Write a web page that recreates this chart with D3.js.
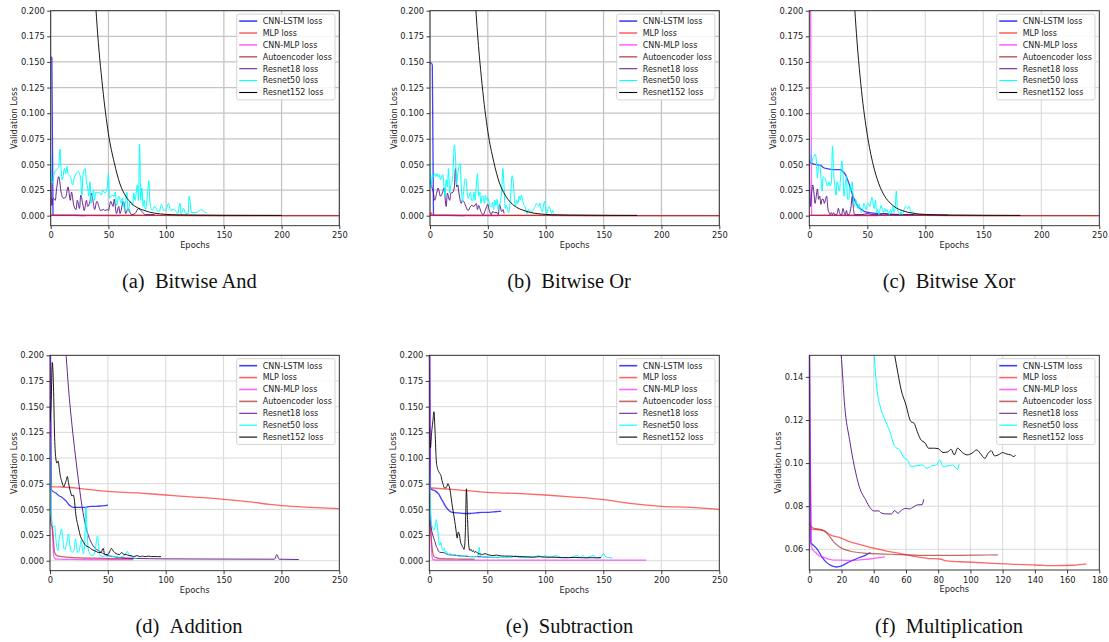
<!DOCTYPE html>
<html><head><meta charset="utf-8">
<script src="https://cdn.jsdelivr.net/npm/d3@7"></script>
<style>body{margin:0;background:#fff;}svg{display:block;}</style>
</head><body>
<svg id="chart" width="1109" height="642"></svg>
<script>
// ---------- labels ----------
const seriesNames = ["CNN-LSTM loss","MLP loss","CNN-MLP loss","Autoencoder loss","Resnet18 loss","Resnet50 loss","Resnet152 loss"];
const captions = ["(a)\u00a0\u00a0Bitwise And","(b)\u00a0\u00a0Bitwise Or","(c)\u00a0\u00a0Bitwise Xor","(d)\u00a0\u00a0Addition","(e)\u00a0\u00a0Subtraction","(f)\u00a0\u00a0Multiplication"];
const xTicksMain = [0,50,100,150,200,250];
const xTicksMul = [0,20,40,60,80,100,120,140,160,180];
const yTicksMain = [0,0.025,0.05,0.075,0.1,0.125,0.15,0.175,0.2];
const yTicksMul = [0.06,0.08,0.10,0.12,0.14];

// ---------- (a) Bitwise And ----------
const aCnnLstm = [[0,0.155],[1,0.154],[2,0.0005],[5,0.0003],[10,0.0002],[20,0.0002],[30,0.0001]];
const aMlp = [[0,0.0003],[50,0.0002],[100,0.0002],[150,0.0001],[200,0.0001],[250,0.0001]];
const aCnnMlp = [[0,0.0004],[20,0.0002],[60,0.0001]];
const aAutoenc = [[0,0.0003],[50,0.0002],[100,0.0002],[150,0.0001],[200,0.0001],[250,0.0001]];
const aResnet18 = [[0,0.045],[1,0.010],[2,0.017],[4,0.015],[5,0.025],[7,0.038],[9,0.023],[11,0.017],[13,0.018],[15,0.028],[17,0.015],[18,0.023],[20,0.010],[22,0.006],[23,0.015],[25,0.007],[26,0.020],[28,0.010],[29,0.005],[31,0.015],[32,0.009],[34,0.014],[35,0.022],[37,0.012],[38,0.006],[40,0.014],[42,0.008],[43,0.005],[46,0.006],[47,0.005],[49,0.006],[50,0.005],[52,0.014],[54,0.009],[55,0.016],[57,0.002],[59,0.009],[60,0.002],[63,0.014],[65,0.002],[67,0.007],[70,0.001],[73,0.002],[76,0.007],[79,0.004],[82,0.001],[86,0.001],[90,0.001]];
const aResnet50 = [[0,0.060],[1,0.033],[2,0.032],[3,0.041],[5,0.045],[7,0.048],[8,0.065],[9,0.045],[10,0.035],[12,0.046],[13,0.041],[14,0.048],[15,0.041],[17,0.038],[19,0.030],[20,0.035],[22,0.041],[24,0.043],[26,0.036],[27,0.020],[28,0.041],[30,0.046],[31,0.033],[32,0.028],[33,0.019],[34,0.033],[35,0.012],[36,0.019],[37,0.025],[38,0.015],[39,0.023],[41,0.022],[42,0.023],[44,0.020],[45,0.025],[47,0.022],[49,0.028],[50,0.041],[51,0.017],[53,0.020],[55,0.019],[56,0.023],[57,0.010],[59,0.019],[61,0.012],[62,0.017],[64,0.006],[65,0.015],[66,0.023],[67,0.004],[69,0.014],[71,0.010],[72,0.022],[73,0.015],[74,0.022],[75,0.030],[76,0.015],[77,0.070],[78,0.015],[79,0.027],[80,0.009],[81,0.015],[82,0.006],[84,0.023],[85,0.034],[86,0.012],[88,0.005],[90,0.009],[92,0.005],[94,0.004],[96,0.011],[98,0.005],[100,0.006],[102,0.012],[104,0.005],[106,0.006],[108,0.005],[110,0.002],[112,0.012],[113,0.002],[115,0.007],[117,0.002],[119,0.002],[120,0.019],[122,0.003],[125,0.003],[128,0.004],[130,0.006],[132,0.005],[134,0.003],[135,0.003]];
const aResnet152 = [[0,2.5],[20,0.9],[30,0.45],[35,0.29],[40,0.188],[45,0.125],[50,0.080],[55,0.052],[60,0.031],[65,0.019],[70,0.012],[75,0.0078],[80,0.0055],[85,0.0036],[90,0.0024],[95,0.0017],[100,0.0012],[110,0.0008],[120,0.0006],[150,0.0004],[200,0.0003]];

// ---------- (b) Bitwise Or ----------
const bCnnLstm = [[0,0.149],[1,0.149],[2,0.147],[3,0.0005],[6,0.0003],[15,0.0002],[30,0.0001]];
const bMlp = [[0,0.0003],[1,0.003],[2,0.0003],[50,0.0002],[100,0.0002],[150,0.0001],[200,0.0001],[250,0.0001]];
const bCnnMlp = [[0,0.0004],[20,0.0002],[60,0.0001]];
const bAutoenc = [[0,0.0003],[50,0.0002],[100,0.0002],[150,0.0001],[200,0.0001],[250,0.0001]];
const bResnet18 = [[0,0.035],[1,0.030],[3,0.022],[4,0.015],[6,0.023],[7,0.027],[9,0.019],[11,0.023],[12,0.027],[14,0.009],[15,0.022],[17,0.015],[18,0.022],[20,0.023],[21,0.028],[22,0.046],[23,0.028],[24,0.030],[25,0.022],[27,0.012],[28,0.015],[30,0.012],[31,0.009],[33,0.005],[35,0.009],[36,0.010],[38,0.009],[40,0.012],[41,0.006],[42,0.010],[44,0.004],[46,0.001],[48,0.006],[49,0.009],[50,0.011],[51,0.006],[53,0.001],[54,0.004],[56,0.003],[58,0.003],[59,0.001],[60,0.011],[62,0.004],[63,0.006],[64,0.002]];
const bResnet50 = [[0,0.052],[1,0.028],[2,0.040],[3,0.038],[4,0.041],[5,0.038],[6,0.041],[7,0.038],[8,0.040],[9,0.035],[11,0.040],[12,0.030],[13,0.019],[14,0.035],[15,0.028],[16,0.046],[17,0.022],[18,0.030],[19,0.033],[20,0.045],[21,0.069],[22,0.058],[23,0.030],[24,0.041],[25,0.048],[26,0.051],[27,0.030],[28,0.014],[29,0.022],[30,0.035],[31,0.036],[32,0.025],[33,0.017],[35,0.023],[36,0.015],[37,0.015],[38,0.023],[39,0.015],[40,0.030],[41,0.041],[42,0.019],[43,0.023],[44,0.012],[45,0.019],[46,0.019],[47,0.012],[48,0.020],[49,0.015],[50,0.017],[51,0.014],[52,0.009],[53,0.009],[54,0.013],[55,0.006],[56,0.015],[57,0.010],[58,0.016],[59,0.006],[60,0.010],[61,0.015],[62,0.025],[63,0.046],[64,0.028],[65,0.007],[66,0.010],[67,0.006],[68,0.003],[69,0.010],[70,0.025],[71,0.039],[72,0.033],[73,0.015],[74,0.009],[75,0.015],[76,0.012],[77,0.019],[78,0.015],[79,0.020],[80,0.015],[81,0.011],[82,0.009],[83,0.005],[84,0.002],[85,0.006],[86,0.004],[87,0.005],[88,0.004],[90,0.007],[91,0.009],[92,0.012],[93,0.011],[94,0.009],[95,0.012],[96,0.007],[97,0.004],[98,0.009],[99,0.014],[100,0.007],[101,0.002],[102,0.007],[103,0.009],[104,0.006],[105,0.002],[106,0.005],[107,0.002]];
const bResnet152 = [[0,2.5],[20,0.9],[30,0.46],[35,0.30],[40,0.195],[45,0.128],[50,0.082],[55,0.053],[60,0.032],[65,0.020],[70,0.0125],[75,0.0080],[80,0.0055],[85,0.0036],[90,0.0024],[95,0.0017],[100,0.0012],[110,0.0008],[120,0.0006],[150,0.0004],[179,0.0003]];

// ---------- (c) Bitwise Xor ----------
const cCnnLstm = [[0,0.053],[2,0.051],[5,0.050],[10,0.049],[12,0.047],[15,0.046],[20,0.045],[25,0.045],[27,0.045],[28,0.044],[30,0.042],[32,0.038],[34,0.032],[36,0.025],[38,0.018],[40,0.013],[42,0.009],[45,0.006],[48,0.004],[52,0.003],[60,0.002],[70,0.0015],[80,0.001],[90,0.0008],[100,0.0006],[120,0.0004]];
const cMlp = [[0,0.0003],[50,0.0002],[100,0.0002],[150,0.0001],[200,0.0001],[250,0.0001]];
const cCnnMlp = [[0,0.6],[1,0.25],[2,0.0003],[20,0.0002],[60,0.0001]];
const cAutoenc = [[0,0.0003],[50,0.0002],[100,0.0002],[150,0.0001],[200,0.0001],[250,0.0001]];
const cResnet18 = [[0,0.055],[1,0.009],[2,0.022],[3,0.030],[4,0.022],[5,0.012],[6,0.019],[7,0.026],[8,0.016],[9,0.019],[10,0.011],[11,0.016],[12,0.016],[13,0.012],[14,0.016],[15,0.019],[16,0.007],[17,0.003],[18,0.001],[19,0.003],[20,0.001],[21,0.003],[22,0.001],[23,0.001],[24,0.002],[25,0.007],[26,0.003],[27,0.001],[28,0.001],[29,0.007],[30,0.003],[31,0.001],[32,0.005],[33,0.001],[34,0.001],[35,0.003],[36,0.009],[37,0.019],[38,0.007],[39,0.001],[45,0.001],[50,0.002],[55,0.001],[60,0.001],[65,0.002],[70,0.001],[80,0.001],[90,0.001]];
const cResnet50 = [[0,0.075],[1,0.055],[2,0.051],[3,0.056],[4,0.058],[5,0.060],[6,0.055],[7,0.037],[8,0.048],[9,0.050],[10,0.038],[11,0.024],[12,0.038],[13,0.037],[14,0.035],[15,0.030],[16,0.029],[17,0.033],[18,0.029],[19,0.032],[20,0.068],[21,0.042],[22,0.029],[23,0.020],[24,0.033],[25,0.029],[26,0.024],[27,0.038],[28,0.053],[29,0.042],[30,0.019],[31,0.030],[32,0.038],[33,0.016],[34,0.016],[35,0.029],[36,0.024],[37,0.033],[38,0.016],[39,0.009],[40,0.016],[41,0.011],[42,0.007],[43,0.011],[44,0.006],[45,0.003],[46,0.006],[47,0.012],[48,0.009],[49,0.006],[50,0.011],[51,0.012],[52,0.009],[53,0.013],[54,0.018],[55,0.012],[56,0.007],[57,0.015],[58,0.003],[59,0.006],[60,0.001],[61,0.006],[62,0.010],[63,0.006],[64,0.003],[65,0.007],[66,0.004],[67,0.006],[68,0.003],[69,0.001],[70,0.006],[71,0.003],[72,0.009],[73,0.003],[74,0.007],[75,0.024],[76,0.006],[77,0.003],[78,0.001],[79,0.004],[80,0.001],[81,0.003],[82,0.007],[83,0.009],[84,0.008],[85,0.007],[86,0.009],[87,0.006],[88,0.003],[89,0.004],[90,0.003],[91,0.002]];
const cResnet152 = [[0,2.5],[20,0.9],[30,0.45],[35,0.29],[40,0.188],[45,0.122],[50,0.079],[55,0.050],[60,0.031],[65,0.019],[70,0.012],[75,0.0075],[80,0.005],[85,0.0033],[90,0.0022],[100,0.0012],[110,0.0008],[120,0.0006],[150,0.0004],[182,0.0003]];

// ---------- (d) Addition ----------
const dCnnLstm = [[0,0.30],[1,0.070],[2,0.068],[5,0.066],[8,0.063],[10,0.062],[12,0.060],[14,0.058],[16,0.055],[18,0.053],[20,0.052],[25,0.052],[30,0.052],[35,0.053],[40,0.053],[45,0.0535],[50,0.054]];
const dMlp = [[0,0.075],[2,0.072],[10,0.0718],[25,0.0705],[40,0.0685],[50,0.0675],[75,0.066],[100,0.064],[125,0.062],[150,0.0598],[175,0.057],[190,0.0548],[200,0.0537],[225,0.052],[250,0.0508]];
const dCnnMlp = [[0,0.25],[1,0.04],[2,0.03],[3,0.008],[4,0.002],[6,0.0015],[20,0.0013],[40,0.0012],[60,0.0012],[72,0.0012]];
const dAutoenc = [[0,0.045],[1,0.035],[2,0.033],[3,0.02],[4,0.008],[6,0.005],[10,0.004],[20,0.003],[40,0.0025],[60,0.002],[72,0.002]];
const dResnet18 = [[0,1.0],[10,0.26],[12,0.23],[14,0.199],[16,0.168],[19,0.132],[22,0.102],[24.5,0.079],[27,0.058],[30,0.038],[33,0.025],[37,0.015],[43,0.009],[52,0.0045],[72,0.0023],[100,0.0018],[150,0.0016],[194,0.0015],[196,0.006],[198,0.0015],[215,0.0012]];
const dResnet50 = [[0,0.12],[1,0.06],[2,0.034],[3,0.033],[4,0.034],[5,0.022],[6,0.012],[7,0.010],[8,0.022],[9,0.026],[10,0.031],[11,0.022],[12,0.012],[13,0.011],[14,0.015],[15,0.020],[16,0.026],[17,0.016],[18,0.010],[19,0.008],[20,0.009],[21,0.012],[22,0.021],[23,0.013],[24,0.008],[25,0.009],[26,0.014],[27,0.020],[28,0.012],[29,0.007],[30,0.018],[31,0.052],[32,0.030],[33,0.012],[34,0.008],[35,0.006],[36,0.005],[37,0.005],[38,0.006],[39,0.010],[40,0.018],[41,0.024],[42,0.014],[43,0.006],[44,0.005],[46,0.004],[48,0.005],[50,0.004],[52,0.005],[55,0.004],[58,0.004],[60,0.003],[62,0.004],[64,0.005],[66,0.008],[67,0.009],[68,0.006],[70,0.004],[72,0.003],[75,0.002]];
const dResnet152 = [[0,0.135],[1,0.155],[2,0.193],[3,0.17],[4,0.12],[5,0.10],[6,0.095],[7,0.097],[8,0.09],[9,0.082],[10,0.078],[11,0.074],[12,0.072],[13,0.075],[14,0.078],[15,0.082],[16,0.076],[17,0.070],[18,0.066],[19,0.063],[20,0.064],[21,0.060],[22,0.048],[23,0.040],[24,0.035],[25,0.030],[26,0.025],[27,0.022],[28,0.020],[29,0.018],[30,0.016],[32,0.014],[34,0.013],[36,0.011],[38,0.010],[40,0.009],[42,0.008],[44,0.008],[46,0.012],[47,0.007],[48,0.006],[50,0.006],[52,0.010],[53,0.012],[55,0.009],[57,0.007],[60,0.006],[62,0.008],[64,0.006],[66,0.006],[68,0.005],[70,0.005],[72,0.004],[75,0.005],[78,0.004],[80,0.0045],[82,0.004],[85,0.0045],[88,0.004],[90,0.0042],[93,0.004],[96,0.004]];

// ---------- (e) Subtraction ----------
const eCnnLstm = [[0,0.30],[1,0.070],[3,0.069],[5,0.068],[8,0.065],[10,0.061],[12,0.057],[14,0.053],[16,0.050],[18,0.048],[20,0.047],[25,0.0465],[30,0.046],[35,0.046],[40,0.0465],[45,0.047],[50,0.047],[55,0.0475],[60,0.048],[62,0.048]];
const eMlp = [[0,0.071],[25,0.069],[50,0.0665],[75,0.0655],[100,0.064],[125,0.062],[150,0.0595],[175,0.0555],[200,0.053],[225,0.052],[250,0.050]];
const eCnnMlp = [[0,0.25],[1,0.05],[2,0.01],[3,0.001],[5,0.0007],[40,0.0006],[100,0.0005],[150,0.0005],[187,0.0005]];
const eAutoenc = [[0,0.04],[1,0.03],[2,0.018],[3,0.008],[4,0.004],[6,0.003],[10,0.002],[20,0.0018],[30,0.0015],[39,0.0015]];
const eResnet18 = [[0,0.065],[1,0.04],[2,0.03],[3,0.025],[5,0.018],[6,0.014],[7,0.012],[8,0.009],[10,0.008],[12,0.008],[14,0.007],[16,0.006],[20,0.0055],[25,0.005],[30,0.0045],[35,0.004],[40,0.004],[50,0.0035],[60,0.003]];
const eResnet50 = [[0,0.11],[1,0.05],[2,0.035],[3,0.032],[4,0.030],[5,0.033],[6,0.040],[7,0.032],[8,0.022],[9,0.015],[10,0.018],[11,0.012],[12,0.010],[13,0.012],[14,0.008],[15,0.009],[16,0.006],[18,0.007],[20,0.005],[22,0.006],[24,0.005],[26,0.004],[28,0.005],[30,0.004],[32,0.005],[35,0.004],[40,0.004],[42,0.005],[43,0.013],[44,0.005],[46,0.004],[50,0.0035],[55,0.003],[60,0.0035],[65,0.003],[70,0.003],[75,0.005],[78,0.003],[85,0.003],[90,0.0035],[95,0.005],[97,0.003],[100,0.005],[103,0.003],[110,0.005],[113,0.003],[120,0.003],[128,0.005],[130,0.003],[132,0.005],[135,0.003],[142,0.005],[144,0.003],[148,0.003],[150,0.007],[152,0.004],[155,0.003],[158,0.0025]];
const eResnet152 = [[0,0.13],[1,0.11],[2,0.125],[3,0.135],[4,0.145],[5,0.125],[6,0.098],[7,0.090],[8,0.087],[9,0.085],[10,0.083],[11,0.078],[12,0.074],[13,0.071],[14,0.071],[15,0.072],[16,0.075],[17,0.073],[18,0.068],[19,0.060],[20,0.052],[21,0.045],[22,0.038],[23,0.030],[24,0.022],[25,0.028],[26,0.025],[27,0.018],[28,0.015],[29,0.013],[30,0.011],[31,0.025],[32,0.070],[33,0.040],[34,0.015],[35,0.010],[36,0.011],[37,0.009],[38,0.010],[39,0.008],[40,0.009],[42,0.007],[44,0.0065],[46,0.006],[48,0.007],[50,0.006],[52,0.0055],[55,0.005],[58,0.0055],[60,0.005],[65,0.0045],[70,0.0045],[75,0.004],[80,0.004],[85,0.0038],[90,0.0035],[95,0.004],[100,0.0035],[105,0.0035],[110,0.0033],[115,0.003],[120,0.003],[125,0.0032],[130,0.003],[135,0.0028],[140,0.003],[145,0.0028],[148,0.003]];

// ---------- (f) Multiplication ----------
const fCnnLstm = [[0,0.16],[1,0.063],[2,0.0622],[5,0.060],[8,0.0563],[11,0.0537],[14,0.0523],[17,0.0518],[20,0.0523],[23,0.0535],[27,0.0549],[31,0.0562],[35,0.0573],[38,0.0585]];
const fMlp = [[0,0.0695],[1,0.0694],[9,0.0687],[13,0.0667],[19,0.0654],[25,0.0636],[31,0.0623],[40,0.0605],[48,0.0592],[56,0.0581],[64,0.0569],[73,0.0558],[81,0.0555],[85,0.0546],[98,0.0541],[114,0.0535],[122,0.0532],[133,0.0529],[143,0.0526],[153,0.0524],[164,0.0526],[172,0.0532]];
const fCnnMlp = [[0,0.17],[1,0.062],[2,0.060],[4,0.0585],[6,0.057],[8,0.0565],[10,0.056],[12,0.0555],[15,0.055],[20,0.055],[25,0.0548],[30,0.055],[35,0.0553],[40,0.0558],[45,0.0563],[47,0.0565]];
const fAutoenc = [[0,0.0718],[2,0.070],[5,0.0695],[8,0.069],[11,0.0674],[15,0.0636],[19,0.061],[25,0.0592],[36,0.0581],[50,0.0577],[71,0.0572],[91,0.0572],[105,0.0573],[117,0.0574]];
const fResnet18 = [[0,0.5],[10,0.25],[15,0.19],[18,0.163],[20,0.148],[22,0.1262],[25,0.1108],[28,0.0984],[31,0.0891],[35,0.0829],[38,0.079],[40,0.0778],[43,0.0778],[45,0.0767],[48,0.0764],[51,0.0764],[53,0.078],[55,0.0767],[57,0.078],[60,0.079],[62,0.0787],[65,0.0798],[67,0.0806],[70,0.0807],[71,0.0832]];
const fResnet50 = [[0,0.6],[20,0.3],[30,0.22],[36,0.18],[40,0.152],[42,0.134],[44,0.1262],[47,0.12],[50,0.1146],[53,0.1077],[56,0.1061],[59,0.1022],[61,0.1015],[63,0.0984],[66,0.0987],[70,0.0991],[73,0.0976],[76,0.0987],[79,0.0991],[81,0.1015],[83,0.0984],[86,0.0987],[89,0.0991],[92,0.0971],[93,0.0995]];
const fResnet152 = [[0,0.6],[30,0.3],[45,0.2],[50,0.165],[53,0.15],[55,0.1417],[57,0.134],[60,0.127],[63,0.1193],[65,0.1185],[67,0.1146],[69,0.1111],[72,0.1092],[74,0.1069],[77,0.1069],[80,0.1067],[83,0.1049],[86,0.1052],[88,0.1064],[90,0.1038],[92,0.1069],[95,0.1049],[98,0.1038],[101,0.1046],[104,0.1061],[106,0.1046],[109,0.1022],[111,0.1046],[113,0.1057],[115,0.1033],[118,0.1041],[120,0.1049],[122,0.1043],[125,0.1038],[127,0.103],[128,0.1038]];

// ---------- styles & layout ----------
const lineStyles = [
  {color:"#0000ff", width:1.3, opacity:0.75},
  {color:"#ff0000", width:1.3, opacity:0.6},
  {color:"#ff00ff", width:1.3, opacity:0.6},
  {color:"#a52a2a", width:1.2, opacity:0.7},
  {color:"#4b0082", width:1.0, opacity:0.85},
  {color:"#00ffff", width:1.0, opacity:1},
  {color:"#000000", width:0.9, opacity:1}
];

const panels = [
  {left:50.7, right:339.3, top:10.7, bottom:225.7, xDomain:[0,250], yDomain:[-0.0098,0.2], xTicks:xTicksMain, yTicks:yTicksMain, yFmt:".3f", grid:"#c4c4c4", gridW:1.3, capX:189.4, capY:288,
   series:[aCnnLstm,aMlp,aCnnMlp,aAutoenc,aResnet18,aResnet50,aResnet152]},
  {left:430, right:719.3, top:10.7, bottom:225.7, xDomain:[0,250], yDomain:[-0.0098,0.2], xTicks:xTicksMain, yTicks:yTicksMain, yFmt:".3f", grid:"#c4c4c4", gridW:1.3, capX:569, capY:288,
   series:[bCnnLstm,bMlp,bCnnMlp,bAutoenc,bResnet18,bResnet50,bResnet152]},
  {left:809.3, right:1099.3, top:10.7, bottom:225.7, xDomain:[0,250], yDomain:[-0.0098,0.2], xTicks:xTicksMain, yTicks:yTicksMain, yFmt:".3f", grid:"#d6d6d6", gridW:1, capX:949, capY:288,
   series:[cCnnLstm,cMlp,cCnnMlp,cAutoenc,cResnet18,cResnet50,cResnet152]},
  {left:50, right:339.3, top:355.3, bottom:570.7, xDomain:[0,250], yDomain:[-0.0097,0.2], xTicks:xTicksMain, yTicks:yTicksMain, yFmt:".3f", grid:"#d9d9d9", gridW:1, capX:189, capY:633,
   series:[dCnnLstm,dMlp,dCnnMlp,dAutoenc,dResnet18,dResnet50,dResnet152]},
  {left:429.3, right:719.3, top:355.3, bottom:570.7, xDomain:[0,250], yDomain:[-0.0097,0.2], xTicks:xTicksMain, yTicks:yTicksMain, yFmt:".3f", grid:"#d9d9d9", gridW:1, capX:569.5, capY:633,
   series:[eCnnLstm,eMlp,eCnnMlp,eAutoenc,eResnet18,eResnet50,eResnet152]},
  {left:809.3, right:1099.3, top:355.3, bottom:570, xDomain:[0,180], yDomain:[0.0504,0.15], xTicks:xTicksMul, yTicks:yTicksMul, yFmt:".2f", grid:"#d9d9d9", gridW:1, capX:949, capY:633,
   series:[fCnnLstm,fMlp,fCnnMlp,fAutoenc,fResnet18,fResnet50,fResnet152]}
];

const svg = d3.select("#chart");
const FONT = "'DejaVu Sans', sans-serif";
const TICKFS = 8.3;

panels.forEach((p, pi) => {
  const x = d3.scaleLinear().domain(p.xDomain).range([p.left, p.right]);
  const y = d3.scaleLinear().domain(p.yDomain).range([p.bottom, p.top]);
  const g = svg.append("g");

  // grid
  g.append("g").selectAll("line").data(p.xTicks).join("line")
    .attr("x1", d => x(d)).attr("x2", d => x(d)).attr("y1", p.top).attr("y2", p.bottom)
    .attr("stroke", p.grid).attr("stroke-width", p.gridW);
  g.append("g").selectAll("line").data(p.yTicks).join("line")
    .attr("y1", d => y(d)).attr("y2", d => y(d)).attr("x1", p.left).attr("x2", p.right)
    .attr("stroke", p.grid).attr("stroke-width", p.gridW);

  // clip
  const cid = "clip" + pi;
  svg.append("clipPath").attr("id", cid).append("rect")
    .attr("x", p.left).attr("y", p.top).attr("width", p.right - p.left).attr("height", p.bottom - p.top);

  const line = d3.line().x(d => x(d[0])).y(d => y(d[1])).curve(d3.curveMonotoneX);
  const lg = g.append("g").attr("clip-path", `url(#${cid})`);
  p.series.forEach((s, si) => {
    const st = lineStyles[si];
    lg.append("path").datum(s).attr("d", line).attr("fill", "none")
      .attr("stroke", st.color).attr("stroke-width", st.width).attr("stroke-opacity", st.opacity)
      .attr("stroke-linejoin", "round");
  });

  // spines
  g.append("rect").attr("x", p.left).attr("y", p.top).attr("width", p.right - p.left).attr("height", p.bottom - p.top)
    .attr("fill", "none").attr("stroke", "#262626").attr("stroke-width", 0.9);

  // axes
  const xa = g.append("g").attr("transform", `translate(0,${p.bottom})`)
    .call(d3.axisBottom(x).tickValues(p.xTicks).tickFormat(d3.format("d")).tickSize(3.5).tickPadding(3.2));
  const ya = g.append("g").attr("transform", `translate(${p.left},0)`)
    .call(d3.axisLeft(y).tickValues(p.yTicks).tickFormat(d3.format(p.yFmt)).tickSize(3.5).tickPadding(2.5));
  [xa, ya].forEach(a => {
    a.select(".domain").remove();
    a.selectAll(".tick line").attr("stroke", "#262626").attr("stroke-width", 0.9);
    a.selectAll(".tick text").attr("font-family", FONT).attr("font-size", TICKFS).attr("fill", "#222");
  });

  // axis labels
  let maxW = 0;
  ya.selectAll(".tick text").each(function(){ maxW = Math.max(maxW, this.getComputedTextLength()); });
  const lx = p.left - 6 - maxW - 6.5;
  g.append("text").attr("transform", `translate(${lx},${(p.top + p.bottom) / 2}) rotate(-90)`)
    .attr("text-anchor", "middle").attr("dy", "0.35em")
    .attr("font-family", FONT).attr("font-size", TICKFS).attr("fill", "#222").text("Validation Loss");
  g.append("text").attr("x", (p.left + p.right) / 2).attr("y", p.bottom + 22.4)
    .attr("text-anchor", "middle").attr("font-family", FONT).attr("font-size", TICKFS).attr("fill", "#222").text("Epochs");

  // legend
  const bw = 98.3, bh = 85.8;
  const bx = p.right - 4.3 - bw, by = p.top + 3.4;
  const leg = g.append("g");
  leg.append("rect").attr("x", bx).attr("y", by).attr("width", bw).attr("height", bh).attr("rx", 2)
    .attr("fill", "#fff").attr("fill-opacity", 0.85).attr("stroke", "#d0d0d0").attr("stroke-width", 0.9);
  seriesNames.forEach((name, si) => {
    const st = lineStyles[si];
    const ly = by + 7 + si * 11.9;
    leg.append("line").attr("x1", bx + 2.5).attr("x2", bx + 20.5).attr("y1", ly).attr("y2", ly)
      .attr("stroke", st.color).attr("stroke-width", si < 4 ? 1.6 : 1.1).attr("stroke-opacity", st.opacity);
    leg.append("text").attr("x", bx + 26).attr("y", ly).attr("dy", "0.35em")
      .attr("font-family", FONT).attr("font-size", 8).attr("fill", "#222").text(name);
  });

  // caption
  svg.append("text").attr("x", p.capX).attr("y", p.capY).attr("text-anchor", "middle")
    .attr("font-family", "'Liberation Serif', 'Times New Roman', serif").attr("font-size", 20.5).attr("fill", "#111")
    .text(captions[pi]);
});
</script>
</body></html>
